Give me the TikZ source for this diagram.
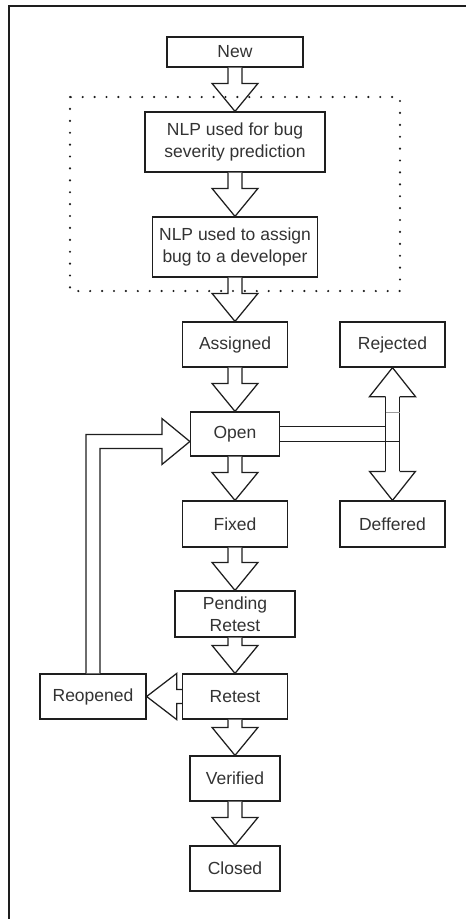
\documentclass[tikz,border=0pt]{standalone}
\usepackage{fontspec}
\setmainfont{Liberation Sans}
\usepackage{tikz}
\usetikzlibrary{calc,positioning}
\definecolor{flowInk}{RGB}{30,30,30}
\definecolor{flowText}{RGB}{51,51,51}

\begin{document}
\begin{tikzpicture}[x=1pt,y=1pt,
  stagebox/.style={draw=flowInk, line width=1.25pt, fill=white, text=flowText,
    inner sep=0pt, align=center, font=\fontsize{17.5}{22}\selectfont},
  blockarrow/.style={draw=flowInk, line width=1.25pt, fill=white, line join=miter}]
\useasboundingbox (0,0) rectangle (466,-919);

% frame, open on the right and at the bottom
\draw[flowInk, line width=1.3pt] (466,-6) -- (9,-6) -- (9,-919);

% main column
\node[stagebox, minimum width=136, minimum height=30] (new) at (235,-52) {New};
\node[stagebox, minimum width=180, minimum height=60] (nlpsev) at (235,-142) {NLP used for bug\\severity prediction};
\node[stagebox, minimum width=165, minimum height=60] (nlpdev) at (235,-247) {NLP used to assign\\bug to a developer};
\node[stagebox, minimum width=105, minimum height=45] (assigned) at (235,-344.5) {Assigned};
\node[stagebox, minimum width=89, minimum height=44] (open) at (235,-434) {Open};
\node[stagebox, minimum width=105, minimum height=46] (fixed) at (235,-524) {Fixed};
\node[stagebox, minimum width=120, minimum height=46] (pending) at (235,-614) {Pending\\Retest};
\node[stagebox, minimum width=105, minimum height=45] (retest) at (235,-696.5) {Retest};
\node[stagebox, minimum width=90, minimum height=45] (verified) at (235,-778.5) {Verified};
\node[stagebox, minimum width=90, minimum height=45] (closed) at (235,-868.5) {Closed};

% side states
\node[stagebox, minimum width=105, minimum height=45] (rejected) at (392.5,-344.5) {Rejected};
\node[stagebox, minimum width=105, minimum height=46] (deffered) at (392.5,-524) {Deffered};
\node[stagebox, minimum width=106, minimum height=45] (reopened) at (93,-696.5) {Reopened};

% straight block arrows down the column
\foreach \a/\b in {new/nlpsev,nlpsev/nlpdev,nlpdev/assigned,assigned/open,open/fixed,fixed/pending,pending/retest,retest/verified,verified/closed}
  \draw[blockarrow] ($(\a.south)+(-7,0)$) -- ($(\b.north)+(-7,28)$) -- ++(-16,0) -- (\b.north)
    -- ++(23,28) -- ++(-16,0) -- ($(\a.south)+(7,0)$);

% retest back to reopened
\draw[blockarrow] ($(retest.west)+(0,7)$) -- ($(reopened.east)+(30,7)$) -- ++(0,16) -- (reopened.east)
  -- ++(30,-23) -- ++(0,16) -- ($(retest.west)+(0,-7)$);

% reopened loops up into open
\coordinate (entry) at ($(open.west)+(0,-7.5)$);
\draw[blockarrow] ($(reopened.north)+(-7,0)$) |- ($(entry)+(-28,7)$) -- ++(0,16) -- (entry)
  -- ($(entry)+(-28,-23)$) -- ++(0,16) -| ($(reopened.north)+(7,0)$);

% open splits to rejected and deffered
\coordinate (bend) at (rejected.south |- open.east);
\draw[blockarrow] ($(open.east)+(0,7.5)$) -- ($(bend)+(-7,7.5)$);
\draw[blockarrow] ($(open.east)+(0,-7.5)$) -- ($(bend)+(7,-7.5)$);
\draw[blockarrow] ($(rejected.south)+(-7,-29)$) -- ($(deffered.north)+(-7,29)$);
\draw[blockarrow] ($(rejected.south)+(7,-29)$) -- ($(deffered.north)+(7,29)$);
\draw[flowInk!45, line width=1.1pt] ($(bend)+(-7,21.5)$) -- ++(14,0);
\draw[blockarrow] ($(rejected.south)+(-7,-29)$) -- ++(-16,0) -- (rejected.south) -- ++(23,-29) -- ++(-16,0);
\draw[blockarrow] ($(deffered.north)+(-7,29)$) -- ++(-16,0) -- (deffered.north) -- ++(23,29) -- ++(-16,0);

% dotted group round the two NLP steps
\draw[flowInk, line width=2.4pt, line cap=round, dash pattern=on 0pt off 11.9pt] (70,-97) rectangle (400,-291);
\end{tikzpicture}
\end{document}
